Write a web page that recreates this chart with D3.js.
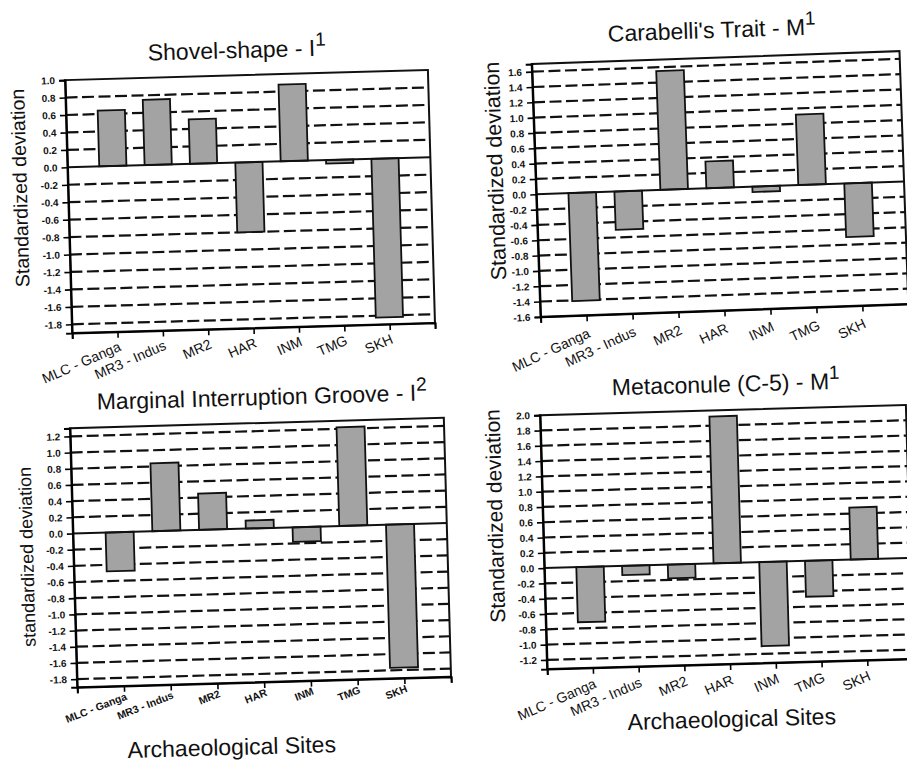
<!DOCTYPE html>
<html>
<head>
<meta charset="utf-8">
<script src="https://cdn.jsdelivr.net/npm/d3@7"></script>
<style>
    body { margin: 0; background: #fff; }
    text { font-family: "Liberation Sans", Arial, sans-serif; fill: #111; }
</style>
</head>
<body>
<div id="chart"></div>
<script>
const sites = ['MLC - Ganga', 'MR3 - Indus', 'MR2', 'HAR', 'INM', 'TMG', 'SKH'];

const shovelValues = [0.64, 0.75, 0.51, -0.80, 0.88, -0.04, -1.82];
const carabelliValues = [-1.41, -0.50, 1.55, 0.35, -0.07, 0.92, -0.70];
const grooveValues = [-0.48, 0.84, 0.45, 0.10, -0.18, 1.22, -1.77];
const metaconuleValues = [-0.72, -0.12, -0.18, 1.92, -1.10, -0.47, 0.68];

const shovelTicks = [-1.8, -1.6, -1.4, -1.2, -1.0, -0.8, -0.6, -0.4, -0.2, 0, 0.2, 0.4, 0.6, 0.8, 1.0];
const carabelliTicks = [-1.6, -1.4, -1.2, -1.0, -0.8, -0.6, -0.4, -0.2, 0, 0.2, 0.4, 0.6, 0.8, 1.0, 1.2, 1.4, 1.6];
const grooveTicks = [-1.8, -1.6, -1.4, -1.2, -1.0, -0.8, -0.6, -0.4, -0.2, 0, 0.2, 0.4, 0.6, 0.8, 1.0, 1.2];
const metaconuleTicks = [-1.2, -1.0, -0.8, -0.6, -0.4, -0.2, 0, 0.2, 0.4, 0.6, 0.8, 1.0, 1.2, 1.4, 1.6, 1.8, 2.0];

// layout of the four panels (the scan is slightly tilted, hence the angles)
const panels = [
    {
        values: shovelValues, ticks: shovelTicks, domain: [-1.9, 1.0],
        title: 'Shovel-shape - I', sup: '1', titleX: 237, titleY: 58,
        yLabel: 'Standardized deviation', yLabelX: 20, yLabelY: 188, yLabelSize: 19.5,
        cx: 250, cy: 201.5, w: 363, h: 253, angle: -1.6,
        catSize: 14, catWeight: 'normal', catDy: 14, catAngle: -22
    },
    {
        values: carabelliValues, ticks: carabelliTicks, domain: [-1.6, 1.7],
        title: "Carabelli's Trait - M", sup: '1', titleX: 712, titleY: 38,
        yLabel: 'Standardized deviation', yLabelX: 495, yLabelY: 171, yLabelSize: 21.5,
        cx: 720, cy: 184, w: 368, h: 253, angle: -2,
        catSize: 14, catWeight: 'normal', catDy: 17, catAngle: -23
    },
    {
        values: grooveValues, ticks: grooveTicks, domain: [-1.9, 1.3],
        title: 'Marginal Interruption Groove - I', sup: '2', titleX: 262, titleY: 405,
        yLabel: 'standardized deviation', yLabelX: 27, yLabelY: 557, yLabelSize: 18,
        xLabel: 'Archaeological Sites', xLabelX: 232, xLabelY: 755,
        cx: 260.5, cy: 552.5, w: 374, h: 259, angle: -1.6,
        catSize: 10.5, catWeight: 'bold', catDy: 10, catAngle: -20
    },
    {
        values: metaconuleValues, ticks: metaconuleTicks, domain: [-1.32, 2.0],
        title: 'Metaconule (C-5) - M', sup: '1', titleX: 726, titleY: 392,
        yLabel: 'Standardized deviation', yLabelX: 495, yLabelY: 516, yLabelSize: 21,
        xLabel: 'Archaeological Sites', xLabelX: 732, xLabelY: 727,
        cx: 726.5, cy: 537, w: 366, h: 254, angle: -1.6,
        catSize: 14, catWeight: 'normal', catDy: 15, catAngle: -22
    }
];

const svg = d3.select('#chart')
              .append('svg')
              .attr('width', 907)
              .attr('height', 763);

panels.forEach(p => drawPanel(p));

function drawPanel(p) {
    const g = svg.append('g')
                 .attr('transform', 'rotate(' + p.angle + ',' + p.cx + ',' + p.cy + ') translate(' + (p.cx - p.w / 2) + ',' + (p.cy - p.h / 2) + ')');

    const xScale = d3.scaleLinear().domain([0, sites.length + 1]).range([0, p.w]);
    const yScale = d3.scaleLinear().domain(p.domain).range([p.h, 0]);
    const barWidth = (xScale(1) - xScale(0)) * 0.6;

    // dashed gridlines
    g.selectAll('.grid')
     .data(p.ticks.filter(t => t !== 0 && t !== p.domain[0] && t !== p.domain[1]))
     .enter()
     .append('line')
     .attr('class', 'grid')
     .attr('x1', 0)
     .attr('x2', p.w)
     .attr('y1', d => yScale(d))
     .attr('y2', d => yScale(d))
     .attr('stroke', '#111')
     .attr('stroke-width', 2.2)
     .attr('stroke-dasharray', '12,4.5');

    g.selectAll('.bar')
     .data(p.values)
     .enter()
     .append('rect')
     .attr('class', 'bar')
     .attr('x', (d, i) => xScale(i + 1) - barWidth / 2)
     .attr('y', d => yScale(Math.max(d, 0)))
     .attr('width', barWidth)
     .attr('height', d => Math.abs(yScale(d) - yScale(0)))
     .attr('fill', '#a3a3a3')
     .attr('stroke', '#111')
     .attr('stroke-width', 1.8);

    // zero line
    g.append('line')
     .attr('x1', 0)
     .attr('x2', p.w)
     .attr('y1', yScale(0))
     .attr('y2', yScale(0))
     .attr('stroke', '#111')
     .attr('stroke-width', 2);

    // frame
    g.append('rect')
     .attr('width', p.w)
     .attr('height', p.h)
     .attr('fill', 'none')
     .attr('stroke', '#111')
     .attr('stroke-width', 2);

    const yAxis = d3.axisLeft(yScale)
                    .tickValues(p.ticks)
                    .tickSizeOuter(0)
                    .tickSize(6)
                    .tickPadding(4)
                    .tickFormat(d => d.toFixed(1));
    const yg = g.append('g').call(yAxis);
    yg.select('.domain').attr('stroke-width', 2);
    yg.selectAll('.tick line').attr('stroke-width', 1.6);
    yg.selectAll('.tick text')
      .style('font-family', '"Liberation Sans", Arial, sans-serif')
      .style('font-size', '10px')
      .style('font-weight', 'bold');

    const xAxis = d3.axisBottom(xScale)
                    .tickValues(d3.range(0, sites.length + 2))
                    .tickSizeOuter(0)
                    .tickSize(6)
                    .tickFormat('');
    const xg = g.append('g')
                .attr('transform', 'translate(0,' + p.h + ')')
                .call(xAxis);
    xg.select('.domain').attr('stroke-width', 2);
    xg.selectAll('.tick line').attr('stroke-width', 1.6);

    g.selectAll('.cat')
     .data(sites)
     .enter()
     .append('text')
     .attr('class', 'cat')
     .attr('transform', (d, i) => 'translate(' + (xScale(i + 1) + 2) + ',' + (p.h + p.catDy) + ') rotate(' + p.catAngle + ')')
     .attr('text-anchor', 'end')
     .attr('dy', '0.35em')
     .style('font-size', p.catSize + 'px')
     .style('font-weight', p.catWeight)
     .text(d => d);

    // titles and axis names
    const title = svg.append('text')
                     .attr('x', p.titleX)
                     .attr('y', p.titleY)
                     .attr('text-anchor', 'middle')
                     .attr('transform', 'rotate(' + p.angle + ',' + p.titleX + ',' + p.titleY + ')')
                     .style('font-size', '23px');
    title.append('tspan').text(p.title);
    title.append('tspan').attr('dy', -10).style('font-size', '19px').text(p.sup);

    svg.append('text')
       .attr('transform', 'translate(' + p.yLabelX + ',' + p.yLabelY + ') rotate(' + (-90 + p.angle) + ')')
       .attr('text-anchor', 'middle')
       .attr('dy', '0.35em')
       .style('font-size', p.yLabelSize + 'px')
       .text(p.yLabel);

    if (p.xLabel) {
        svg.append('text')
           .attr('x', p.xLabelX)
           .attr('y', p.xLabelY)
           .attr('text-anchor', 'middle')
           .attr('transform', 'rotate(' + p.angle + ',' + p.xLabelX + ',' + p.xLabelY + ')')
           .style('font-size', '23px')
           .text(p.xLabel);
    }
}
</script>
</body>
</html>
